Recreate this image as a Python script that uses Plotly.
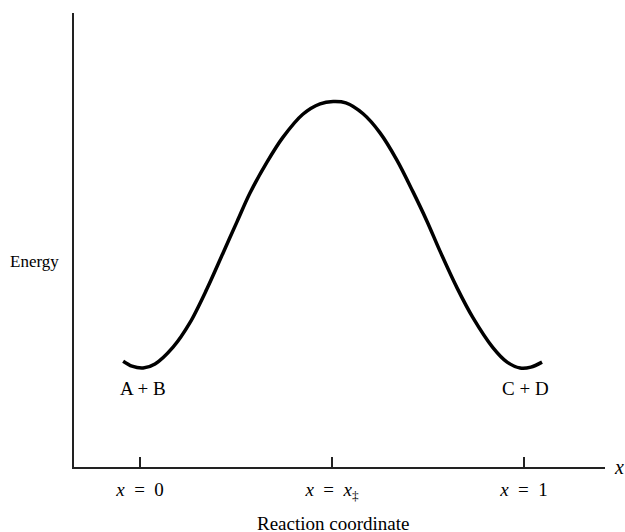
import plotly.graph_objects as go

# reaction coordinate (x = 0 reactants, x = 1 products) and energy
coord = [-0.044, -0.021, 0.008, 0.039, 0.086, 0.130, 0.174, 0.216, 0.253, 0.286,
         0.331, 0.372, 0.424, 0.469, 0.503, 0.536, 0.581, 0.625, 0.669, 0.711,
         0.747, 0.781, 0.826, 0.867, 0.919, 0.956, 0.990, 1.018, 1.047]
energy = [0.233, 0.222, 0.218, 0.227, 0.264, 0.318, 0.392, 0.471, 0.541, 0.603,
          0.672, 0.726, 0.777, 0.800, 0.805, 0.802, 0.778, 0.736, 0.676, 0.606,
          0.542, 0.476, 0.394, 0.329, 0.263, 0.231, 0.218, 0.220, 0.231]

tick_vals = [0, 0.5, 1]
tick_text = ["<i>x</i>&nbsp; =&nbsp; 0",
             "<i>x</i>&nbsp; =&nbsp; <i>x</i><sub>‡</sub>",
             "<i>x</i>&nbsp; =&nbsp; 1"]

species = ["A + B", "C + D"]
species_x = [0.008, 1.005]
species_y = [0.174, 0.174]

FONT = "Liberation Serif"

fig = go.Figure()
fig.add_trace(go.Scatter(
    x=coord, y=energy, mode="lines",
    line=dict(color="black", width=3.5, shape="spline", smoothing=0.9),
    hoverinfo="skip", showlegend=False,
))

for name, sx, sy in zip(species, species_x, species_y):
    fig.add_annotation(x=sx, y=sy, text=name, showarrow=False,
                       xanchor="center", yanchor="middle",
                       font=dict(family=FONT, size=19, color="black"))

fig.add_annotation(xref="paper", yref="paper", x=-0.075, y=0.452,
                   xanchor="center", yanchor="middle",
                   text="Energy", showarrow=False,
                   font=dict(family=FONT, size=17, color="black"))
fig.add_annotation(xref="paper", yref="paper", x=0.488, y=-0.124,
                   xanchor="center", yanchor="middle",
                   text="Reaction coordinate", showarrow=False,
                   font=dict(family=FONT, size=19, color="black"))
fig.add_annotation(xref="paper", yref="paper", x=1.026, y=0.0,
                   xanchor="center", yanchor="middle",
                   text="<i>x</i>", showarrow=False,
                   font=dict(family=FONT, size=20, color="black"))

fig.update_xaxes(range=[-0.172, 1.211], showline=True, linecolor="#222", linewidth=1.5,
                 showgrid=False, zeroline=False, tickvals=tick_vals, ticktext=tick_text,
                 ticks="inside", ticklen=10, tickwidth=1.5, tickcolor="#222",
                 ticklabelstandoff=4,
                 tickfont=dict(family=FONT, size=19, color="black"))
fig.update_yaxes(range=[0, 1], showline=True, linecolor="#222", linewidth=1.5,
                 showgrid=False, zeroline=False, showticklabels=False, ticks="")

fig.update_layout(width=625, height=532, margin=dict(l=74, r=20, t=13, b=65),
                  plot_bgcolor="white", paper_bgcolor="white")

# drop the browser's default body margin so the figure fills the window exactly
fig.write_html("out.html", config={"displayModeBar": False},
               post_script="document.body.style.margin='0';"
                           "document.body.style.overflow='hidden';")
